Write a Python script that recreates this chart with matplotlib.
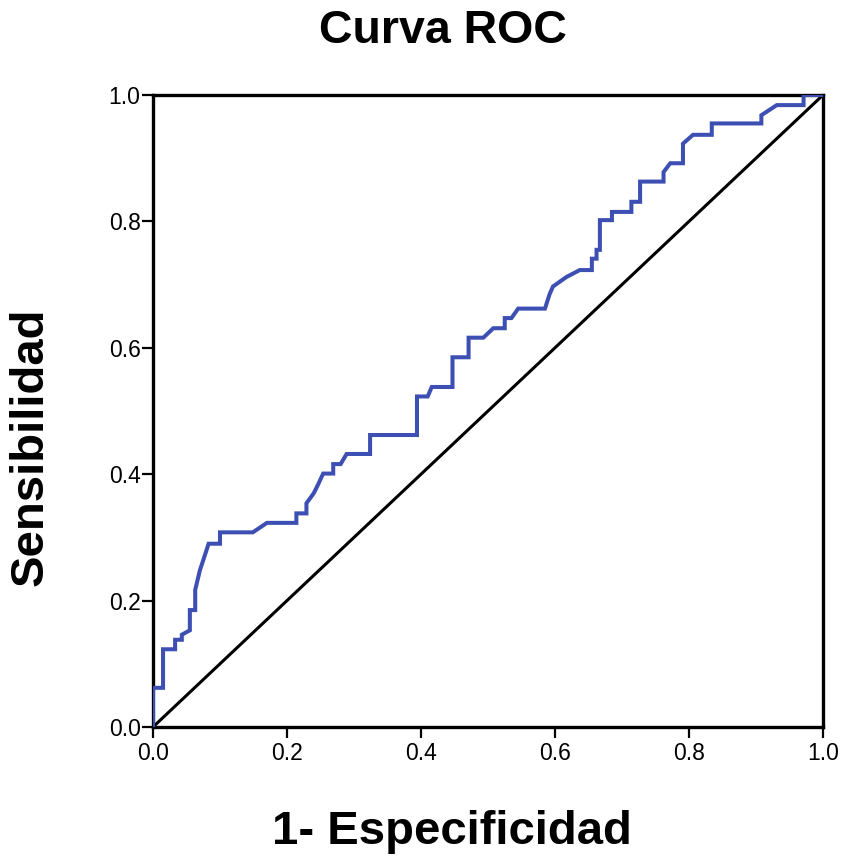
import matplotlib
matplotlib.use("Agg")
import matplotlib.pyplot as plt

plt.rcParams['font.family'] = ['Liberation Sans', 'DejaVu Sans']

# ROC curve vertices (1 - specificity, sensitivity)
fpr = [0.0, 0.0, 0.015, 0.015, 0.033, 0.033, 0.043, 0.043, 0.055, 0.055, 0.063, 0.063,
       0.070, 0.075, 0.083, 0.100, 0.100, 0.149, 0.170, 0.214, 0.214, 0.229, 0.229,
       0.240, 0.247, 0.254, 0.269, 0.269, 0.280, 0.289, 0.324, 0.324, 0.394, 0.394,
       0.410, 0.416, 0.447, 0.447, 0.471, 0.471, 0.493, 0.508, 0.525, 0.525, 0.535,
       0.545, 0.585, 0.592, 0.597, 0.617, 0.637, 0.655, 0.655, 0.662, 0.662, 0.667,
       0.667, 0.685, 0.685, 0.714, 0.714, 0.727, 0.727, 0.762, 0.762, 0.772, 0.791,
       0.791, 0.806, 0.834, 0.834, 0.908, 0.908, 0.931, 0.971, 0.971, 1.0]
tpr = [0.0, 0.062, 0.062, 0.123, 0.123, 0.138, 0.138, 0.146, 0.153, 0.185, 0.185, 0.217,
       0.248, 0.264, 0.290, 0.290, 0.308, 0.308, 0.323, 0.323, 0.338, 0.338, 0.354,
       0.370, 0.385, 0.401, 0.401, 0.416, 0.416, 0.432, 0.432, 0.462, 0.462, 0.523,
       0.523, 0.538, 0.538, 0.585, 0.585, 0.616, 0.616, 0.631, 0.631, 0.647, 0.647,
       0.662, 0.662, 0.685, 0.697, 0.712, 0.723, 0.723, 0.741, 0.741, 0.755, 0.755,
       0.802, 0.802, 0.815, 0.815, 0.831, 0.831, 0.863, 0.863, 0.878, 0.892, 0.892,
       0.923, 0.937, 0.937, 0.955, 0.955, 0.968, 0.984, 0.984, 1.0, 1.0]
ref_line = [0.0, 1.0]
ticks = [0.0, 0.2, 0.4, 0.6, 0.8, 1.0]
tick_labels = ["0.0", "0.2", "0.4", "0.6", "0.8", "1.0"]

fig = plt.figure(figsize=(8.42, 8.58), dpi=100)
ax = fig.add_axes([153/842, 1-727/858, 670/842, 632/858])

ax.plot(ref_line, ref_line, color='black', lw=2.2, solid_capstyle='butt', zorder=2)
ax.plot(fpr, tpr, color='#3D4FB2', lw=2.9, solid_joinstyle='miter', zorder=3)

ax.set_xlim(0, 1)
ax.set_ylim(0, 1)
ax.set_xticks(ticks)
ax.set_xticklabels(tick_labels)
ax.set_yticks(ticks)
ax.set_yticklabels(tick_labels)
ax.tick_params(axis='both', direction='out', length=8, width=1.6, labelsize=16.5,
               colors='black')
ax.tick_params(axis='x', pad=3)
ax.tick_params(axis='y', pad=1)
for s in ax.spines.values():
    s.set_linewidth(2.4)
    s.set_color('black')

fig.text(443/842, 1-31/858, "Curva ROC", ha='center', va='center',
         fontsize=33.5, fontweight='bold')
fig.text(452/842, 1-832/858, "1- Especificidad", ha='center', va='center',
         fontsize=34, fontweight='bold')
fig.text(31/842, 1-447/858, "Sensibilidad", ha='center', va='center',
         fontsize=34, fontweight='bold', rotation=90)

fig.savefig("out.png", dpi=100, facecolor='white')
